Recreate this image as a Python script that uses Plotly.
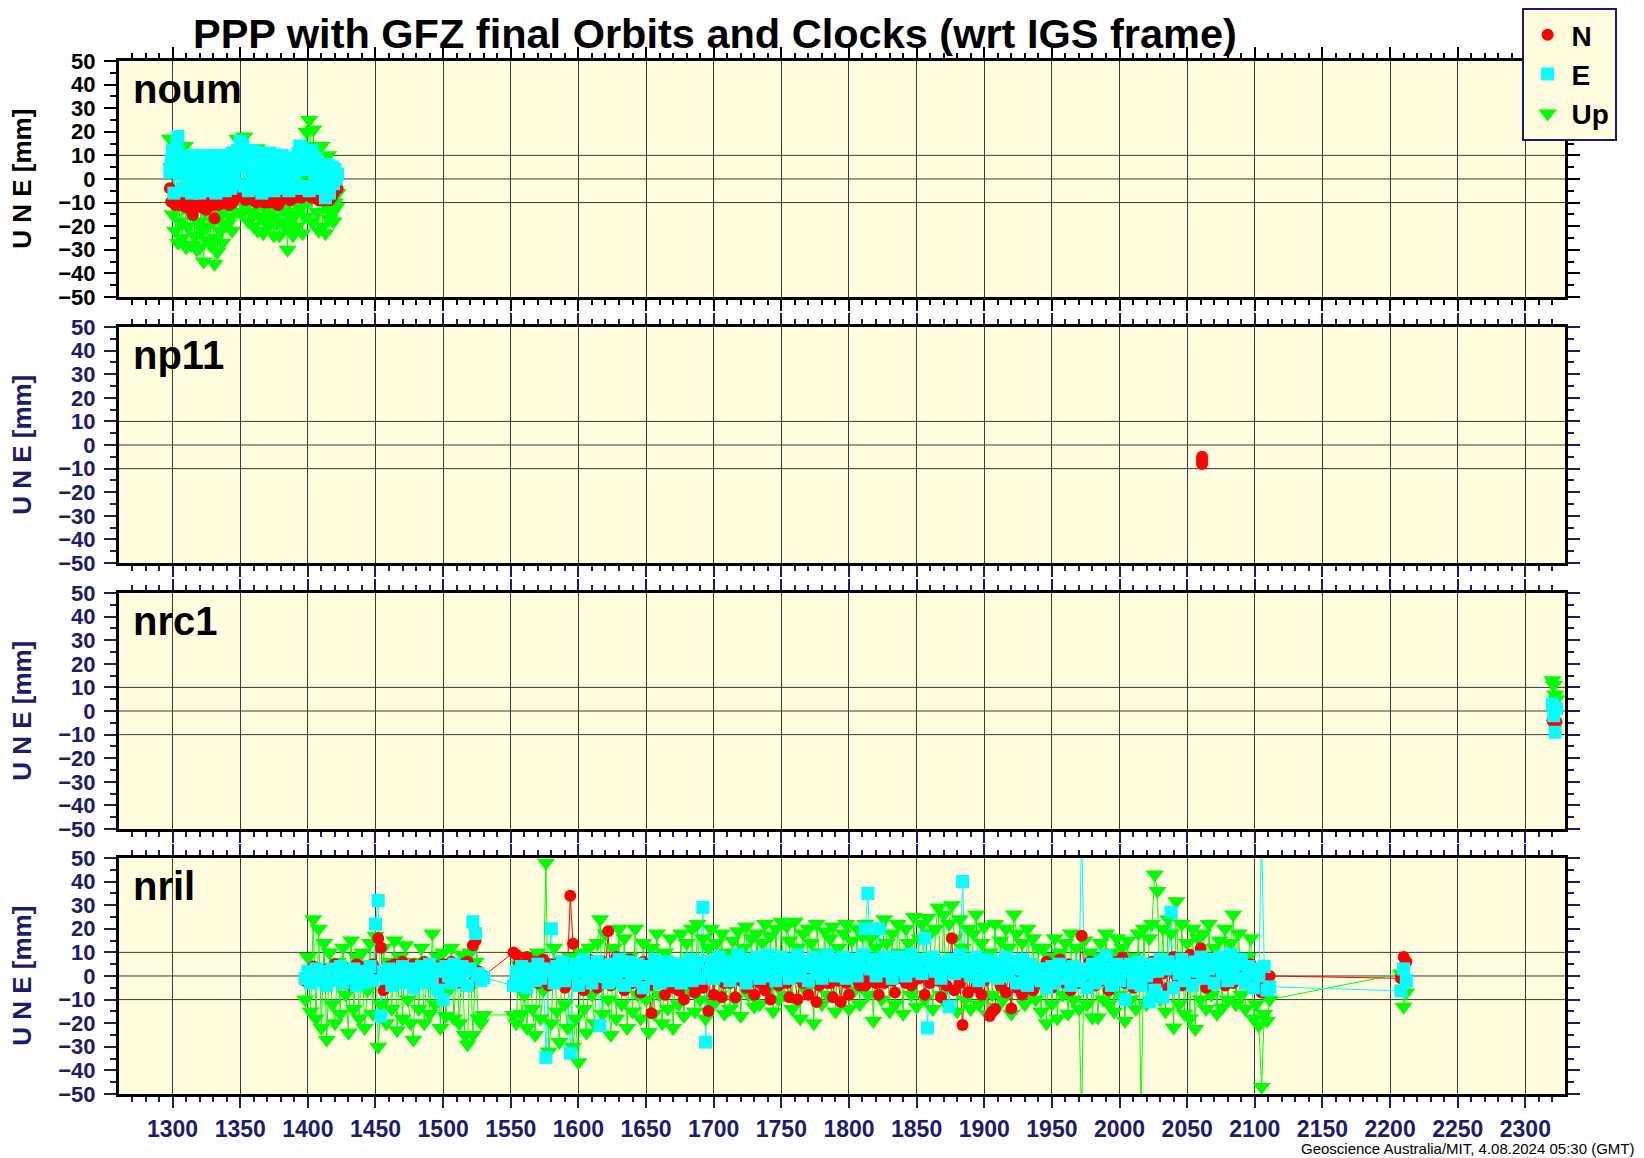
import plotly.graph_objects as go
from plotly.subplots import make_subplots

# ---------------- data ----------------
stations = ["noum", "np11", "nrc1", "nril"]
x_ticks = [1300, 1350, 1400, 1450, 1500, 1550, 1600, 1650, 1700, 1750, 1800, 1850,
           1900, 1950, 2000, 2050, 2100, 2150, 2200, 2250, 2300]

noum_days = list(range(1298, 1423))
noum_n = [
    -3.9, -9.6, -10, -9, -11, -10, -8, -11, -10, -9,
    -11, -10, -12, -9, -11, -10, -13, -15.3, -11, -10,
    -9, -11, -10, -12, -9, -11, -10, -13, -11, -9,
    -10, -8, -11, -16.7, -10, -9, -11, -8, -10, -9,
    -10, -10.3, -8, -9, -11, -8, -10.3, -9, -7, -8,
    -6, -7, -5, -6, -4.6, -7, -8.9, -6, -7, -5,
    -8, -7, -9, -8, -10, -8, -9, -7, -9.6, -8,
    -10, -9, -8, -10, -9, -8, -9, -10, -8, -9,
    -11, -9.9, -8, -7, -8, -6, -6, -8, -7, -9,
    -7, -6, -8, -7, -5, -7, -6, -8, -5, -6,
    -4, -2.4, -5, -7, -6, -8, -7, -6, -8, -7,
    -9, -6, -8, -7, -9, -6, -8, -7, -9, -8,
    -7.4, -6, -5, -3.9, -4]
noum_e = [
    3, 8, 12, -6, 5, 15, 18, 2, 10, -4,
    7, 9, -5, 4, 10, 1, -6, 8, 3, 10,
    -2, 6, -6, 9, 2, 5, 10, -4, 7, 0,
    9, -5, 3, 8, -6, 10, 1, 6, -3, 9,
    4, -5, 10, 2, 7, -4, 11, 3, -2, 8,
    12, 5, 16, 9, 14, -3, 6, 11, -5, 3,
    9, 0, 12, 6, -4, 10, 11, 2, -6, 8,
    4, 10, -3, 7, 11, 1, 8, -5, 10, 5,
    -2, 8, 3, 10, -4, 6, 8, 1, -5, 7,
    3, 9, 0, 6, -4, 11, 14, 5, 13, -3,
    8, 12, 4, -5, 10, 12, 6, -2, 9, 3,
    6, -4, 4, 0, 5, -8, 2, 6, -6, 3,
    5, -2, 4, 0, 2]
noum_u = [
    17, 5, -15, 12, -22, -8, -27, -18, 3, -25,
    -12, 14, -29, -20, 9, -15, -28, -10, -24, -5,
    -30, -18, -29, -8, -22, -35, -14, -26, -20, -12,
    -28, -5, -18, -36, -25, -31, -10, -22, -15, -27,
    -8, -20, -12, -19, -4, -16, -22, -10, 2, -14,
    17, -8, 12, -15, -5, 18, -12, -2, -18, -7,
    -14, 8, -20, -4, 13, -22, -10, -16, 5, -23,
    -12, -18, -6, -20, -14, -2, -16, -24, -9, -19,
    -5, -24, -12, -18, -8, -20, -14, -30, -10, -22,
    -17, -24, -6, -15, -20, -4, -12, 0, -23, -8,
    -16, 20, -10, 25, 14, -18, 21, -6, 12, -14,
    -22, 5, 14, -20, -8, -23, -12, 10, -17, -5,
    -14.6, -18, -10, -12, -6]

np11_days = [2061, 2061, 2061]
np11_n = [-5.0, -6.5, -8.0]
np11_e = []
np11_u = []

nrc1_days = [2320, 2321, 2322, 2323]
nrc1_n = [-4, -5, -6, -4.5]
nrc1_e = [3, -2, -9, 1]
nrc1_u = [13, 11, 7, 5]

nril_days = (list(range(1398, 1531, 2)) + list(range(1552, 1941, 2)) +
             list(range(1942, 2091, 2)) + list(range(2093, 2112, 2)) + [2208, 2210, 2212])
nril_n = [
    # 1398-1530
    -2, 1, -3, 4, 0, -1, 2, -3, 3, 1,
    -1, 5, 2, -2, 4, 0, 3, -4, 1, 5,
    2, -3, 4, 1, -2, 5, 3, 16, 12, -6,
    2, 4, -1, 5, 3, -2, 6, 4, 1, -3,
    5, 2, 4, -1, 6, 3, 0, 5, 4, -2,
    3, 5, -1, 2, 6, 4, -3, 1, 5, 3,
    6, -4, 13, 15, 2, -2, 0,
    # 1552-1940
    10, 9, 5, -2, 3, 8, -1, 4, 6, -3,
    2, 7, 0, -4, 5, 3, -2, 6, 1, -5,
    4, 34, 13.7, -3, 5, 1, -6, 3, 7, -2,
    2, -5, 4, 6, 0, 19, -4, 3, 8, -1,
    5, -6, 2, 7, -3, 4, 1, -7, 6, 0,
    -4, -15.8, 3, 6, -2, 5, -8, 1, 4, -5,
    2, -6, 5, -10, 3, -3, 6, -7, 1, 4,
    -5, 2, -14.8, 3, -8, 0, 5, -9, -3, 2,
    -3, 4, -9, 1, -2, 3, -5, -3, 2, -8,
    0, -3, 3, -6, -2, -10, 4, -2, -4, 1,
    -2, -3, -9, 2, -1, -10, 0, -3, 3, -8,
    -2, 1, -11, -4, -1, 2, -3, -3, -9, 4,
    -2, -11, 0, -3, -8, 3, -1, -2, -4, 1,
    -4, 6, -2, 2, -3, -8, 3, -3, -1, 5,
    -2, -7, 4, -1, 1, -3, 3, -4, -2, 2,
    -1, 4, -8, 1, -3, -2, 5, -2, -9, 3,
    -4, 2, 16, -6, 1, -3, -20.8, 5, -7, 0,
    3, -5, 6, -8, -2, 4, -17, -15, -14, 2,
    -4, 5, -7, 1, -13.8, 3, -5, 2, -8, 4,
    -3, 5, -6, 2, 0,
    # 1942-2090
    3, -4, 6, 1, -5, 4, -2, 7, 0, -3,
    5, -6, 2, 4, -3, 17, 1, -5, 6, 0,
    -4, 3, -2, 5, 1, -6, 4, -1, 6, 2,
    7.7, -3, 5, 0, -5, 3, 6, -2, 4, 1,
    -4, 6, 2, -3, 7, 1, 5, -5, 3, 8,
    0, 5, -4, 6, 2, 9, -3, 4, 7, 11.7,
    3, -5, 6, 1, 8, -2, 4, 7, -4, 2,
    5, -3, 6, 1, 4,
    # 2093-2111
    2, -3, 5, 1, -4, 3, -7, 4, -2, 0,
    # 2208-2212
    -1, 8, 6]
nril_e = [
    # 1398-1530
    -1, 2, -3, 1, 3, -2, 0, 2, -4, 1,
    3, -2, 0, 4, -3, 1, 2, -1, 3, -4,
    0, 2, -3, 1, 4, -2, 22, 32, -17, 2,
    -1, 3, -4, 0, 2, -3, 4, 1, -2, 3,
    -5, 2, 0, 4, -3, 1, 5, -1, 3, -6,
    2, -10, 4, 0, -3, 5, 1, -2, 4, 2,
    -4, 3, 23, 18, 1, -2, -0.7,
    # 1552-1940
    -4, 2, -3, 4, 0, -5, 3, 1, -2, 5,
    -1, 3, -34.5, 2, 20, -3, 4, 0, 6, -2,
    3, -32.7, 1, 5, -4, 2, 7, -1, 4, -3,
    2, 6, -21, 0, 4, -3, 5, 1, -2, 7,
    3, -4, 2, 6, 0, -2, 5, 3, -5, 1,
    4, -1, 7, 2, -3, 5, 0, 6, -2, 3,
    1, 5, -3, 4, 0, 7, -2, 3, 6, -1,
    29, -28, 2, 6, -1, 4, 8, 0, 3, 5,
    -2, 6, 2, 9, 0, 5, -3, 7, 3, 1,
    8, -1, 5, 3, 9, 0, 6, -2, 4, 8,
    2, 5, -1, 7, 3, 9, 0, 6, 4, -2,
    5, 8, 1, 6, -1, 4, 9, 2, 7, 0,
    6, 3, 8, -1, 5, 2, 7, 0, 4, 9,
    20, 35, 3, 7, 0, 20, 5, 8, 2, 6,
    -1, 5, 8, 3, 6, 0, 4, 9, 2, 5,
    7, 1, 16, -22, 4, 8, 2, 6, -1, 5,
    3, -13, 7, 1, 5, 9, 40, 2, 6, 0,
    4, 8, -2, 5, 2, 7, 0, 6, 3, -1,
    5, 2, 8, 0, 4, 6, -3, 3, 7, 1,
    -4, 5, 2, -1, 3,
    # 1942-2090
    -2, 3, -5, 1, 4, -3, 2, 5, -1, 3,
    0, -4, 4, 2, -2, 60, 3, -5, 1, 5,
    -3, 2, 6, -1, 8.5, 3, -4, 1, 5, -2,
    4, -10, 2, 5, -3, 1, 6, -4, 3, 0,
    -11, 5, -6, 2, 7, -9, 3, 6, 27, -5,
    4, 1, 7, -2, 5, 3, -4, 6, 2, 8,
    -1, 5, 3, 7, -3, 4, 8, 1, 6, -2,
    9, 3, 5, -1, 7,
    # 2093-2111
    -3, 4, 1, -5, 3, 0, 60, 4, -6, -4.6,
    # 2208-2212
    -6.3, 3, -2]
nril_u = [
    # 1398-1530
    -10, 8, -15, 24, -18, 20, -22, 14, -27, 10,
    -12, -20, 6, -16, 12, -8, -24, 15, -14, 8,
    -18, 10, -22, -6, 14, -16, 17, -30, -12, 12,
    -20, 6, -14, 15, -23, 8, -18, 13, -10, -20,
    -27, 6, -14, 12, -20, 4, -16, 18, -12, 8,
    -22, 10, -17, -6, 12, -18, 5, -20, 9, -25,
    -29, 10, -25, 6, -18, -20, -16.5,
    # 1552-1940
    -16.5, -20, 5, -16, -8, -22, 8, -14, -25, 10,
    -18, -6, 48, -32, -20, 12, -15, -28, 6, -12,
    -22, 8, -30, -18, -36.6, 10, -14, -24, 12, -8,
    -20, 14, 24, -16, 18, -10, -25, 12, -18, 20,
    -12, 16, -22, 8, -15, 20, -8, -18, 14, -10,
    -23.7, 12, -16, 18, -8, -20, 10, -14, 16, -22,
    6, -12, 18, -17, 14, -6, 20, -15, 22, -10,
    16, -18, 12, 20, -12, 14, -8, 18, -16, 10,
    -14, 15, -10, 19, -17, 12, 21, -8, 16, -13,
    18, -12, 14, 22, -6, 17, -15, 20, -10, 23,
    -8, 21, 15, -14, 23, 12, -18, 18, -6, 20,
    14, -20, 22, 10, -12, 19, -8, 16, 21, -15,
    12, -10, 18, 22, -14, 15, -6, 20, -12, 17,
    22, -8, 16, -19, 12, 20, -10, 24, 14, -15,
    18, -12, 22, 10, -16, 20, 14, -8, 25, -13,
    16, 22, -10, 24.6, 18, -14, 20, 29, -8, 26,
    -12, 22, 30, 16, -15, 24, 12, -10, 20, -14,
    18, 26, -12, 14, 21, -16, 10, -8, 22, -13,
    15, -10, 20, 12, -16, 26, 18, -6, 14, -12,
    20, -8, 16, -10, 12,
    # 1942-2090
    -15, 12, -20, 8, -12, 16, -18, 10, -8, 14,
    -16, 18, -10, 12, -14, -60, 15, -12, 10, -17.6,
    8, -17.6, 14, -10, 18, -12, 10, -15, 16, -8,
    12, -19, 15, -10, 8, -14, 18, -60, 20, -12,
    16, 22, 43, 36, -10, 20, -15, 24, 18, -21.8,
    31.7, -12, 22, -16, 14, -18, 20, -22.5, 16, -10,
    18, -14, 22, -8, 12, -16, 15, -13.4, 20, -10,
    14, 26, -12, 18, -8,
    # 2093-2111
    -14, 8, 16, -18, -12, -21, -47, -16, -19, -10,
    # 2208-2212
    1, -13, -7]

# ---------------- styling ----------------
NAVY = "#1c1c6e"
BG = "#FFFDDE"
GRID = "#3a3a3a"
FONT = "Liberation Sans, Arial, sans-serif"
colors = {"N": "#ff0000", "E": "#00ffff", "Up": "#00ff00"}
symbols = {"N": "circle", "E": "square", "Up": "triangle-down"}
sizes = {"N": 12, "E": 13, "Up": 16}
ranks = {"N": 1, "E": 2, "Up": 3}

station_data = {
    "noum": (noum_days, {"N": noum_n, "E": noum_e, "Up": noum_u}),
    "np11": (np11_days, {"N": np11_n, "E": np11_e, "Up": np11_u}),
    "nrc1": (nrc1_days, {"N": nrc1_n, "E": nrc1_e, "Up": nrc1_u}),
    "nril": (nril_days, {"N": nril_n, "E": nril_e, "Up": nril_u}),
}

fig = make_subplots(rows=4, cols=1, shared_xaxes=True, vertical_spacing=0.03)

for i, st in enumerate(stations, start=1):
    days, comps = station_data[st]
    for comp in ["Up", "N", "E"]:
        vals = comps[comp]
        fig.add_trace(go.Scatter(x=days[:len(vals)], y=vals, mode="lines",
                                 line=dict(color=colors[comp], width=1),
                                 showlegend=False, hoverinfo="skip"), row=i, col=1)
    for comp in ["Up", "N", "E"]:
        vals = comps[comp]
        fig.add_trace(go.Scatter(x=days[:len(vals)], y=vals, mode="markers", name=comp,
                                 marker=dict(color=colors[comp], symbol=symbols[comp],
                                             size=sizes[comp], line=dict(width=0)),
                                 showlegend=(i == 1), legendrank=ranks[comp]),
                      row=i, col=1)
    for v in (-10, 0, 10):
        fig.add_hline(y=v, line_color=GRID, line_width=1, layer="below", row=i, col=1)

# domains (pixel-derived)
domains = [(0.7716, 1.0), (0.5140, 0.7425), (0.2565, 0.4850), (0.0, 0.2285)]

for i in range(1, 5):
    tc = "black" if i == 1 else NAVY
    fig.update_yaxes(range=[-50, 50], tick0=0, dtick=10, ticks="outside", ticklen=12,
                     tickwidth=2, tickcolor=tc,
                     minor=dict(dtick=5, ticklen=6, tickwidth=2, tickcolor=tc, ticks="outside",
                                showgrid=False),
                     showline=True, linecolor="black", linewidth=3, mirror="allticks",
                     showgrid=False, zeroline=False, domain=list(domains[i - 1]),
                     ticklabelstandoff=4,
                     tickfont=dict(family=FONT, size=22, color=tc, weight="bold"),
                     row=i, col=1)
    fig.update_xaxes(range=[1260.4, 2329.3], tickvals=x_ticks, ticks="outside", ticklen=11,
                     tickwidth=2, tickcolor=tc,
                     minor=dict(dtick=10, tick0=1300, ticklen=5, tickwidth=2, tickcolor=tc,
                                ticks="outside", showgrid=False),
                     showline=True, linecolor="black", linewidth=3, mirror="allticks",
                     showgrid=True, gridcolor=GRID, gridwidth=1, zeroline=False,
                     showticklabels=(i == 4), ticklabelstandoff=1,
                     tickfont=dict(family=FONT, size=23, color=NAVY, weight="bold"),
                     row=i, col=1)

annotations = []
for i, st in enumerate(stations, start=1):
    ysuf = "" if i == 1 else str(i)
    tcol = "black" if i == 1 else NAVY
    annotations.append(dict(text=st, xref=f"x{ysuf} domain", yref=f"y{ysuf} domain",
                            x=0.008, y=0.88, xanchor="left", yanchor="middle", showarrow=False,
                            font=dict(family=FONT, size=40, color="black", weight="bold")))
    annotations.append(dict(text="U N E [mm]", xref="paper", yref=f"y{ysuf} domain",
                            x=-0.0672, y=0.5, xanchor="center", yanchor="middle",
                            textangle=-90, showarrow=False,
                            font=dict(family=FONT, size=26, color=tcol, weight="bold")))

annotations.append(dict(text="PPP with GFZ final Orbits and Clocks (wrt IGS frame)",
                        xref="paper", yref="paper", x=0.0495, y=1.0271,
                        xanchor="left", yanchor="middle", showarrow=False,
                        font=dict(family=FONT, size=41.5, color="black", weight="bold")))
annotations.append(dict(text="Geoscience Australia/MIT, 4.08.2024 05:30 (GMT)",
                        xref="paper", yref="paper", x=1.0495, y=-0.0527,
                        xanchor="right", yanchor="middle", showarrow=False,
                        font=dict(family=FONT, size=15, color="black")))

# the page adds an 8 px body margin, so the figure is laid out 8 px up/left
fig.update_layout(
    width=1636, height=1150,
    margin=dict(l=111, r=79, t=53, b=64, autoexpand=False),
    paper_bgcolor="white", plot_bgcolor=BG,
    annotations=annotations,
    showlegend=True,
    legend=dict(x=0.970, y=1.0513, xanchor="left", yanchor="top", bgcolor=BG,
                bordercolor=NAVY, borderwidth=2, traceorder="normal",
                font=dict(family=FONT, size=28, color="black", weight="bold"),
                itemwidth=38, tracegroupgap=0),
)

fig.write_html("out.html")
